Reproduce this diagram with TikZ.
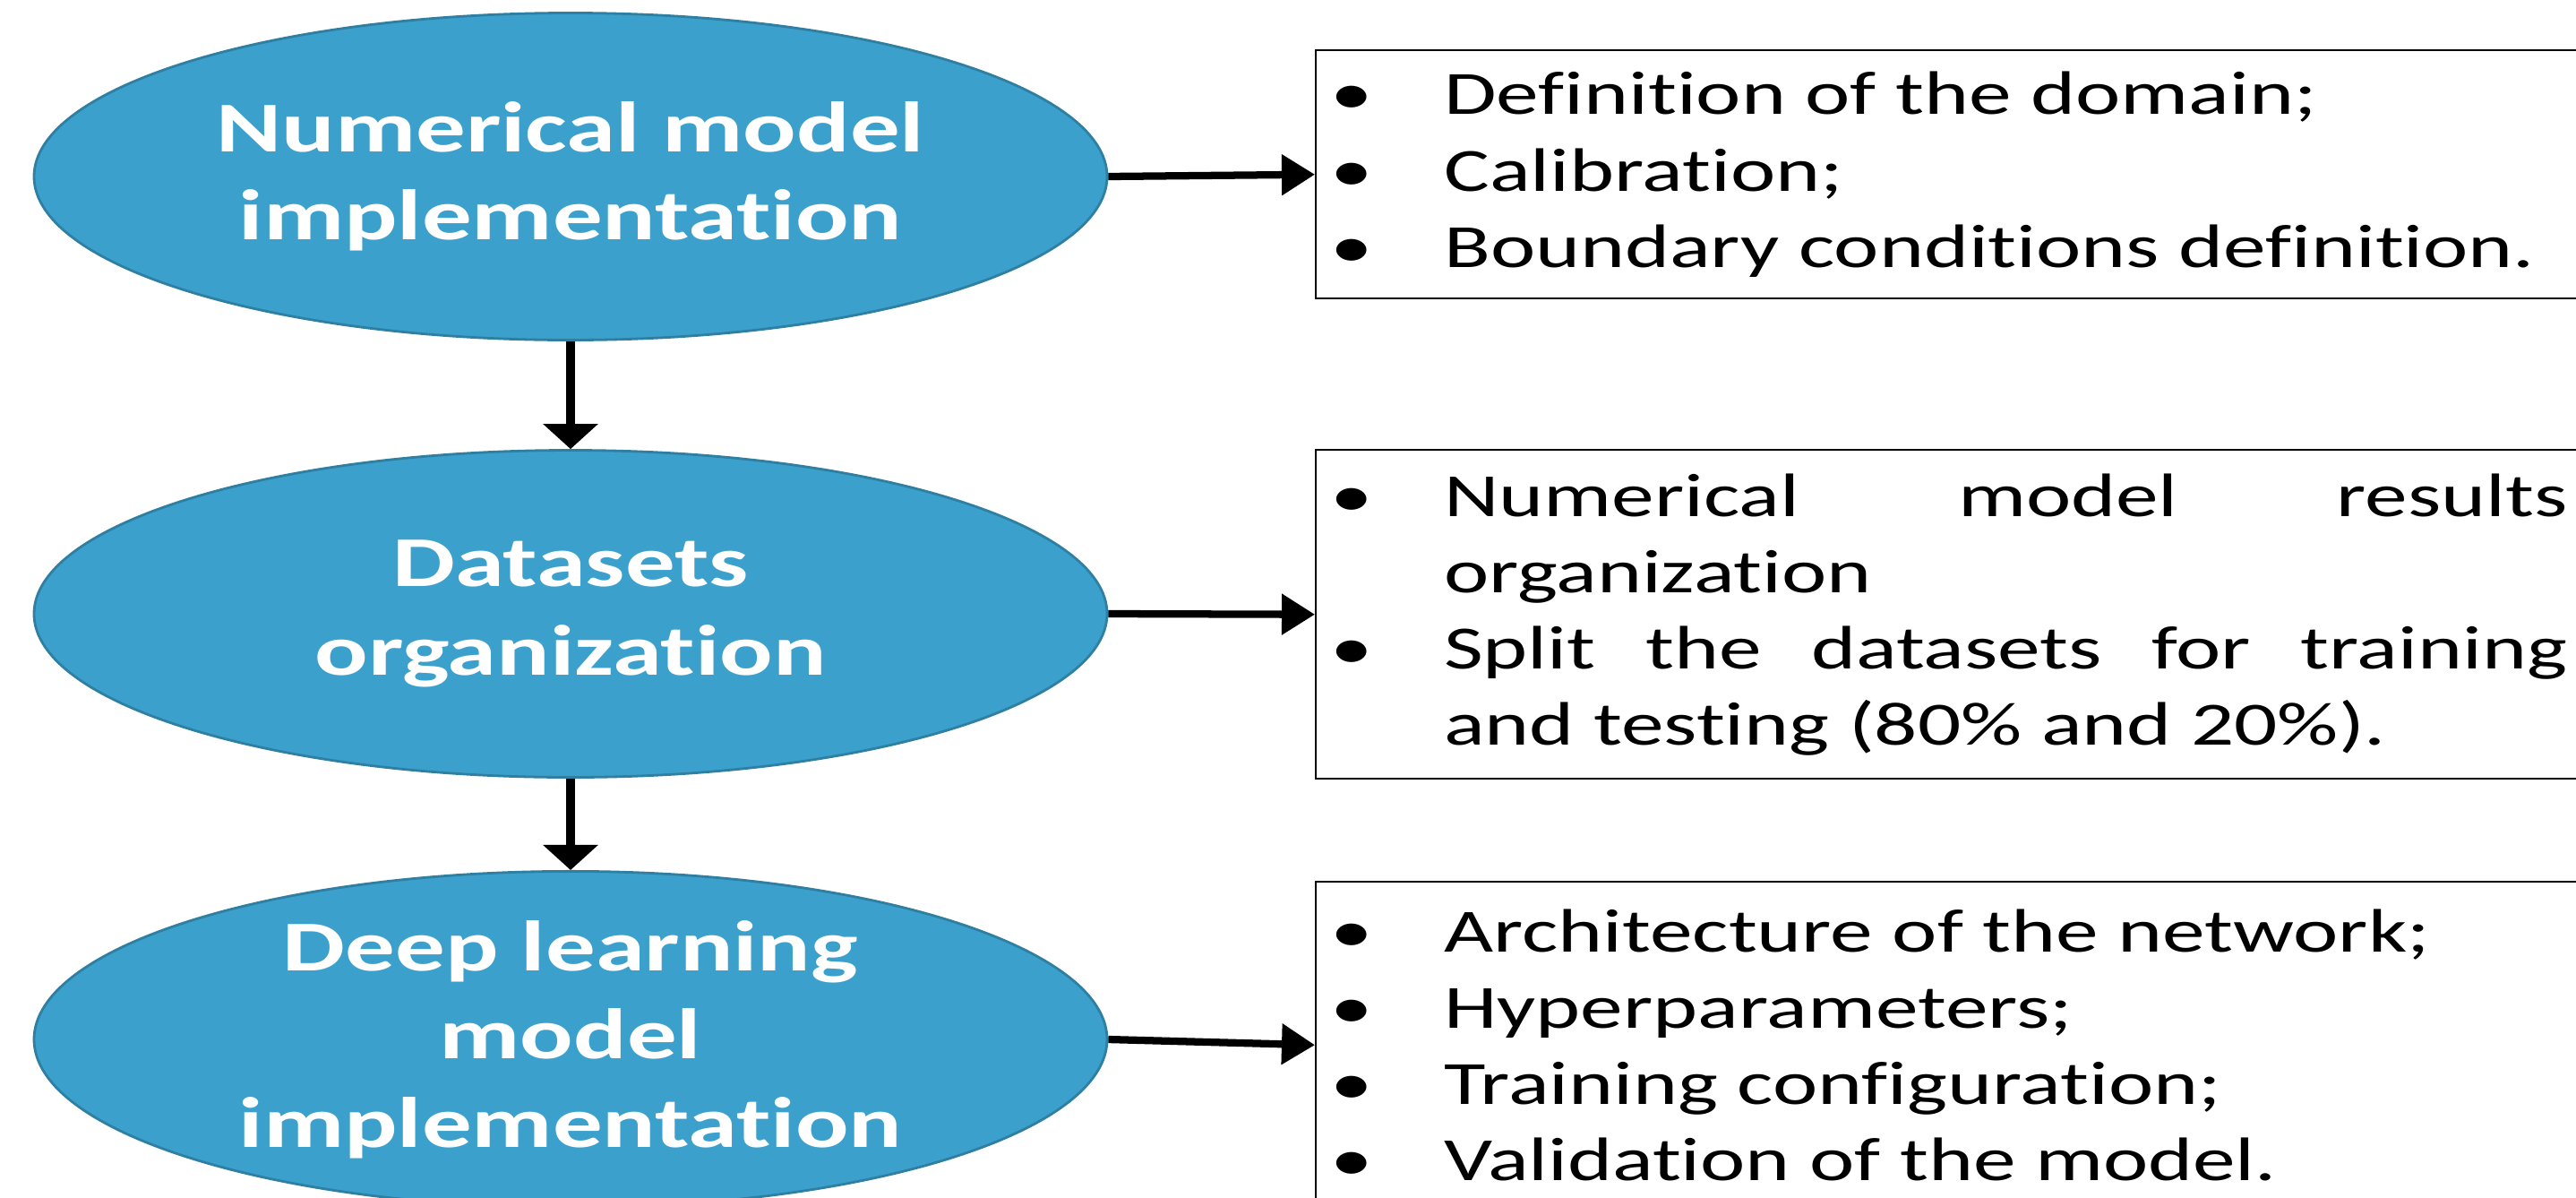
\documentclass[tikz,border=0pt]{standalone}
\usepackage{fontspec}
\setmainfont{Carlito}[FakeStretch=1.39,Ligatures=NoCommon]
\usetikzlibrary{arrows.meta,shapes.geometric}
\definecolor{stageblue}{HTML}{3BA1CC}
\definecolor{stageedge}{HTML}{2F7FA3}
% bullet item with hanging indent, ended by \par
\newcommand\bitem{\noindent\hyphenpenalty=10000\relax\hangindent=1.23cm\hangafter=1\makebox[1.23cm][l]{\hspace{-0.04cm}\textbullet}\ignorespaces}

\begin{document}
\begin{tikzpicture}
		\tikzset{stage/.style = {shape=ellipse,draw=stageedge,fill=stageblue,line width=0.8pt,minimum width=11.98cm,minimum height=3.65cm,inner sep=0pt,align=center,text=white,font=\fontsize{22.7}{28}\selectfont\bfseries,execute at begin node={\rule{0pt}{23.5pt}}}}
		\tikzset{notes/.style = {draw,line width=0.7pt,anchor=north west,inner xsep=0.2cm,inner ysep=0pt,text width=13.77cm,align=justify,font=\fontsize{19.5}{24.2}\selectfont}}
		\tikzset{flow/.style = {-{Triangle[length=0.28cm,width=0.60cm]},line width=3.1pt}}
		\tikzset{detail/.style = {-{Triangle[length=0.37cm,width=0.44cm]},line width=2.35pt}}
		\hbadness=10000
		\useasboundingbox (0,0) rectangle (28.76,-13.36);
		% the three stages
		\node[stage] (num) at (6.37,-1.97) {Numerical model\\implementation};
		\node[stage] (data) at (6.37,-6.85) {Datasets\\organization};
		\node[stage] (deep) at (6.37,-11.60) {Deep learning\\model\\implementation};
		% what each stage covers
		\node[notes,minimum height=2.77cm] (numnotes) at (14.68,-0.55) {%
			\bitem Definition of the domain;\par
			\bitem Calibration;\par
			\bitem Boundary conditions definition.\par};
		\node[notes,minimum height=3.67cm] (datanotes) at (14.68,-5.01) {%
			\bitem Numerical model results\linebreak organization\par
			\bitem Split the datasets for training\linebreak and testing (80\% and 20\%).\par};
		\node[notes,minimum height=3.64cm] (deepnotes) at (14.68,-9.83) {%
			\bitem Architecture of the network;\par
			\bitem Hyperparameters;\par
			\bitem Training configuration;\par
			\bitem Validation of the model.\par};
		\draw[flow] (num) -- (data);
		\draw[flow] (data) -- (deep);
		\draw[detail] (num.east) -- (numnotes.west);
		\draw[detail] (data.east) -- (datanotes.west);
		\draw[detail] (deep.east) -- (deepnotes.west);
	\end{tikzpicture}
\end{document}
